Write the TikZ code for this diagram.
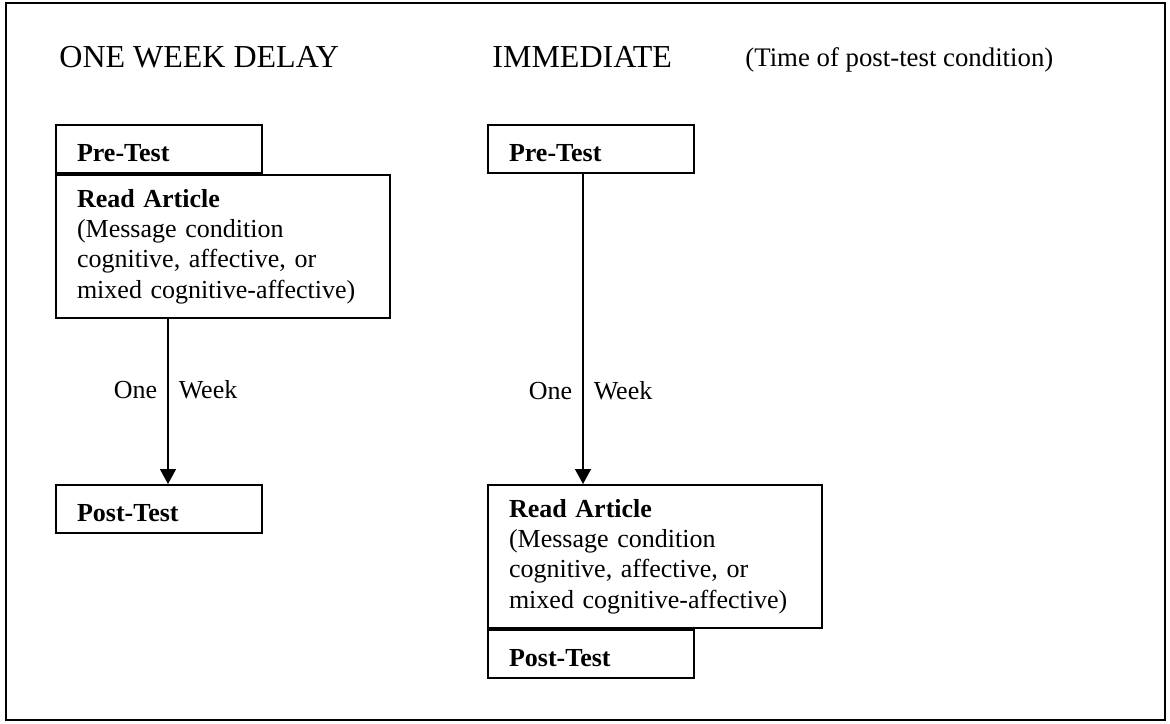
\documentclass[tikz,border=0pt]{standalone}
\usepackage{fontspec}
\setmainfont{Liberation Serif}
\usetikzlibrary{arrows.meta, positioning}

\tikzset{
	stage/.style={draw, line width=1pt, anchor=north west, align=left, inner xsep=10.5pt, inner ysep=0pt, font=\fontsize{13}{15.2}\selectfont},
	smallbox/.style={stage, text width=82pt, text height=12pt, text depth=0pt, minimum height=24pt},
	bigbox/.style={stage, text width=146pt, minimum height=71.5pt},
	heading/.style={anchor=base west, inner sep=0pt, font=\fontsize{16}{19}\selectfont},
	arr/.style={line width=0.75pt, -{Triangle[width=8pt, length=7.5pt]}},
	gap/.style={font=\fontsize{13}{15.2}\selectfont, inner sep=5pt}
}

\begin{document}
\begin{tikzpicture}[x=0.5pt, y=-0.5pt]
	\useasboundingbox (0, 0) rectangle (1170, 723);
	\draw [line width=0.75pt] (6, 3) rectangle (1165, 720);

	% headings
	\node [heading] (delay) at (59, 67) {ONE WEEK DELAY};
	\node [heading] (immediate) at (492, 67) {IMMEDIATE};
	\node [heading, font=\fontsize{13.4}{15.6}\selectfont] (time) at (745, 66) {(Time of post-test condition)};

	% one week delay
	\node [smallbox] (pre1) at (55, 124) {\textbf{Pre-Test}};
	\node [bigbox] (read1) at (pre1.south west) {\textbf{Read Article}\\(Message condition\\cognitive, affective, or\\mixed cognitive-affective)};
	\node [smallbox] (post1) at (55, 484) {\textbf{Post-Test}};
	\draw [arr] ([xshift=56.5pt]read1.south west) to
		node [gap, pos=0.43, left] {One}
		node [gap, pos=0.43, right] {Week}
		([xshift=56.5pt]post1.north west);

	% immediate
	\node [smallbox] (pre2) at (487, 124) {\textbf{Pre-Test}};
	\node [bigbox] (read2) at (487, 484) {\textbf{Read Article}\\(Message condition\\cognitive, affective, or\\mixed cognitive-affective)};
	\node [smallbox] (post2) at (read2.south west) {\textbf{Post-Test}};
	\draw [arr] ([xshift=48pt]pre2.south west) to
		node [gap, pos=0.70, left] {One}
		node [gap, pos=0.70, right] {Week}
		([xshift=48pt]read2.north west);
\end{tikzpicture}
\end{document}
